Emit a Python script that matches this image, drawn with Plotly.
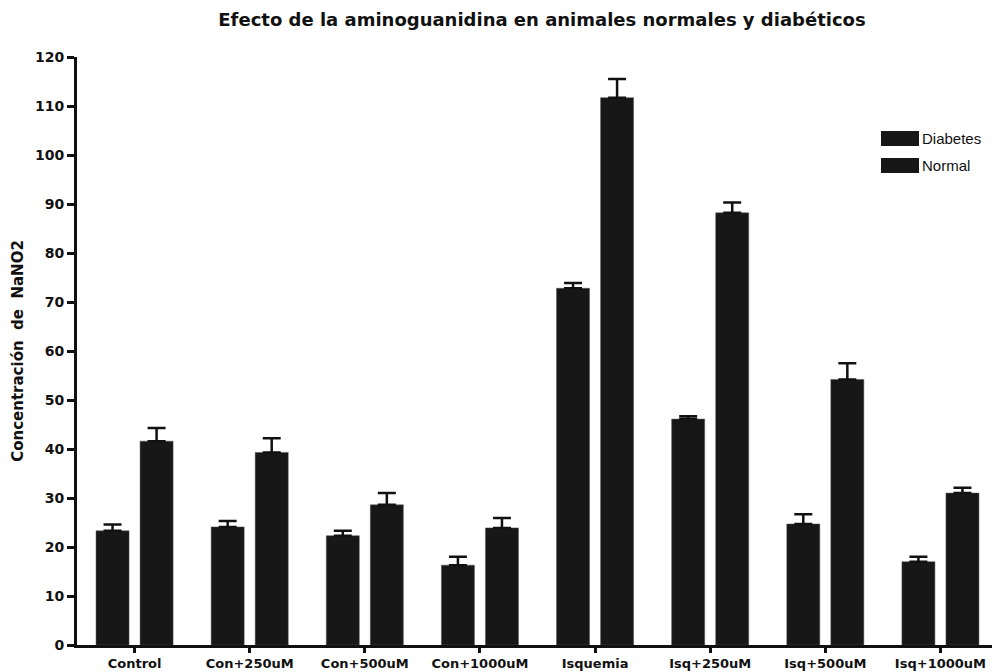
import plotly.graph_objects as go

categories = ["Control", "Con+250uM", "Con+500uM", "Con+1000uM",
              "Isquemia", "Isq+250uM", "Isq+500uM", "Isq+1000uM"]
diabetes = [23.3, 24.1, 22.3, 16.3, 72.8, 46.1, 24.7, 17.0]
diabetes_err = [1.3, 1.2, 1.0, 1.7, 1.1, 0.6, 2.0, 1.0]
normal = [41.6, 39.3, 28.6, 23.9, 111.7, 88.2, 54.2, 31.0]
normal_err = [2.7, 2.9, 2.4, 2.0, 3.8, 2.1, 3.3, 1.1]
series_names = ["Diabetes", "Normal"]
yticks = list(range(0, 121, 10))

bar_color = "#171717"
font_bold = "DejaVu Sans, Verdana, sans-serif"
font_leg = "Liberation Sans, Arial, sans-serif"

# page body has an 8px margin; figure sized to fill the rest of the window
W, H = 992, 664
OFF = 8
L, R, T, B = 69, 2, 49, 27
pw, ph = W - L - R, H - T - B


def px_to_paper_x(xref_px):
    return (xref_px - OFF - L) / pw


def px_to_paper_y(yref_px):
    return 1 - (yref_px - OFF - T) / ph


fig = go.Figure()
for name, vals, errs in [(series_names[0], diabetes, diabetes_err),
                         (series_names[1], normal, normal_err)]:
    fig.add_trace(go.Bar(
        name=name, x=categories, y=vals, showlegend=False,
        marker=dict(color=bar_color, line=dict(color="#555555", width=0.5)),
        error_y=dict(type="data", array=errs, arrayminus=[0] * len(errs),
                     symmetric=False, color="#111111", thickness=2.5, width=9),
    ))

# legend drawn as swatches + labels (large box swatches like the original)
legend_rows = [(131, 146), (158, 173)]
for name, (y0, y1) in zip(series_names, legend_rows):
    fig.add_shape(type="rect", xref="paper", yref="paper",
                  x0=px_to_paper_x(881), x1=px_to_paper_x(919),
                  y0=px_to_paper_y(y1), y1=px_to_paper_y(y0),
                  fillcolor=bar_color, line=dict(width=0))
    fig.add_annotation(text=name, xref="paper", yref="paper",
                       x=px_to_paper_x(920), y=px_to_paper_y((y0 + y1) / 2),
                       xanchor="left", yanchor="middle", showarrow=False,
                       font=dict(size=15, family=font_leg, color="#111111"))

fig.update_layout(
    width=W, height=H,
    margin=dict(l=L, r=R, t=T, b=B),
    paper_bgcolor="white", plot_bgcolor="white",
    barmode="group", bargap=0.235, bargroupgap=0.25,
    font=dict(family=font_bold, color="#111111"),
    title=dict(text="Efecto de la aminoguanidina en animales normales y diabéticos",
               x=(542 - OFF) / W, xref="container", xanchor="center",
               y=1 - (20 - OFF) / H, yref="container", yanchor="middle",
               font=dict(size=18, family=font_bold, weight="bold", color="#111111")),
    showlegend=False,
)
fig.update_xaxes(
    range=[-0.5, 7.5], showline=True, linecolor="#111111", linewidth=2.5,
    ticks="outside", ticklen=5, tickwidth=2.5, tickcolor="#111111",
    tickfont=dict(size=13, family=font_bold, weight="bold", color="#111111"),
    showgrid=False, zeroline=False, automargin=False,
)
fig.update_yaxes(
    range=[0, 120], tickvals=yticks, showline=True, linecolor="#111111", linewidth=3,
    ticks="outside", ticklen=7, tickwidth=2.5, tickcolor="#111111",
    tickfont=dict(size=14, family=font_bold, weight="bold", color="#111111"),
    title=dict(text="Concentración\u00a0\u00a0de\u00a0\u00a0NaNO2", standoff=8,
               font=dict(size=15, family=font_bold, weight="bold", color="#111111")),
    showgrid=False, zeroline=False, automargin=False,
)

fig.write_html("out.html")
